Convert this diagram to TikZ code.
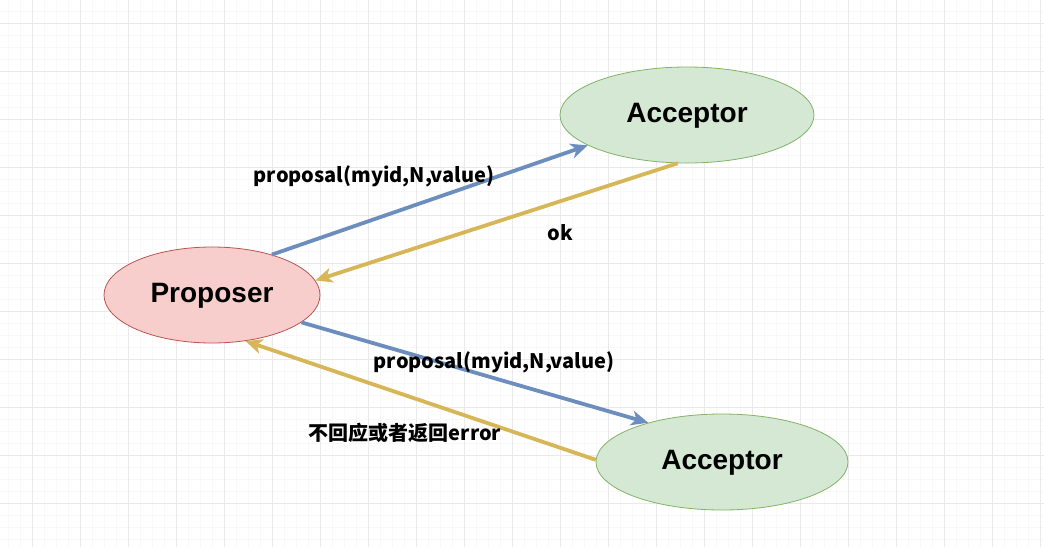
\documentclass[tikz,border=0pt]{standalone}
\usepackage{fontspec}
\setmainfont{Liberation Sans}
\newfontfamily\cjk{Noto Sans CJK SC}
\usepackage{tikz}
\usetikzlibrary{shapes.geometric,arrows.meta,positioning}

\definecolor{gridmajor}{HTML}{E9E9E9}
\definecolor{gridminor}{HTML}{F8F8F8}
\definecolor{propfill}{HTML}{F8CECC}
\definecolor{propline}{HTML}{B85450}
\definecolor{accfill}{HTML}{D5E8D4}
\definecolor{accline}{HTML}{82B366}
\definecolor{askblue}{HTML}{6C8EBF}
\definecolor{replyyellow}{HTML}{D6B656}

\begin{document}
\begin{tikzpicture}[x=1pt,y=-1pt,
  majorline/.style={gridmajor,line width=0.8pt},
  minorline/.style={gridminor,line width=0.6pt},
  agent/.style={ellipse,draw,line width=0.8pt,inner sep=0pt,
    minimum width=250pt,minimum height=96pt,text depth=5pt,
    font=\fontsize{28}{30}\selectfont\bfseries},
  msg/.style={line width=3.8pt,-{Stealth[length=17pt,width=15pt,inset=5pt]}},
  msglabel/.style={inner sep=0pt,font=\cjk\fontsize{20}{22}\selectfont\bfseries}]
\useasboundingbox (0,0) rectangle (1044,547);
\fill[white] (0,0) rectangle (1044,547);
% grade
\foreach \x in {8,20,...,1044} \draw[minorline] (\x,0) -- (\x,547);
\foreach \y in {11,23,...,547} \draw[minorline] (0,\y) -- (1044,\y);
\foreach \x in {32,80,...,1044} \draw[majorline] (\x,0) -- (\x,547);
\foreach \y in {23,71,...,547} \draw[majorline] (0,\y) -- (1044,\y);
% agentes
\node[agent,fill=propfill,draw=propline,minimum width=216pt] (proposer) at (212,295) {Proposer};
\node[agent,fill=accfill,draw=accline,minimum width=254pt] (accup) at (687,115) {Acceptor};
\node[agent,fill=accfill,draw=accline,minimum width=252pt] (accdown) at (722,462) {Acceptor};
% mensagens
\draw[msg,askblue] (proposer.34) -- (accup.197);
\draw[msg,replyyellow] (accup.259) -- (proposer.8);
\draw[msg,askblue] (proposer.-17) -- (accdown.152);
\draw[msg,replyyellow] (accdown.179) -- (proposer.-54);
% rotulos
\node[msglabel] (askup) at (374,176) {proposal(myid,N,value)};
\node[msglabel] (okup) at (560,233) {ok};
\node[msglabel] (askdown) at (494,362) {proposal(myid,N,value)};
\node[msglabel] (nodown) at (405,433) {不回应或者返回error};
\end{tikzpicture}
\end{document}
